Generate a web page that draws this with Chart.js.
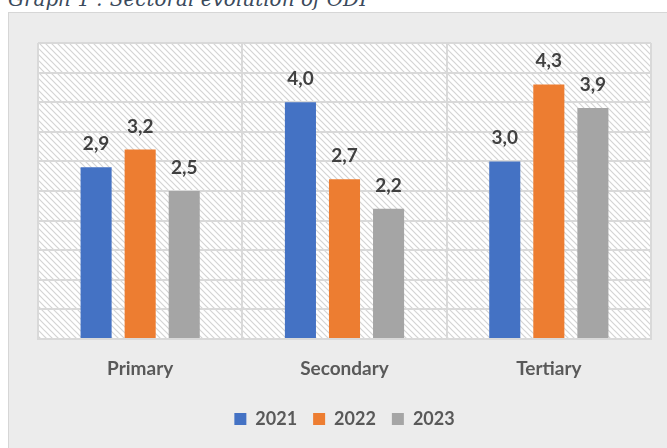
<!DOCTYPE html>
<html>
<head>
<meta charset="utf-8">
<script src="https://cdn.jsdelivr.net/npm/chart.js@4"></script>
<style>
  html, body { margin: 0; padding: 0; background: #ffffff; width: 667px; height: 448px; overflow: hidden; }
  #title {
    position: absolute; left: 8px; top: -13px; margin: 0;
    font-family: "DejaVu Serif", serif; font-style: italic; font-size: 20px;
    color: #3b4a5c; white-space: nowrap; line-height: 24px;
  }
  #panel {
    position: absolute; left: 8px; top: 12px; width: 659px; height: 436px;
    background: #ececec; border-top: 1px solid #d6d6d6; border-left: 1px solid #d6d6d6;
    box-sizing: border-box;
  }
  #chart { position: absolute; left: 0; top: 0; }
</style>
</head>
<body>
<div id="title">Graph 1 : Sectoral evolution of ODI</div>
<div id="panel"><canvas id="chart" width="658" height="435"></canvas></div>
<script>
// Sectoral values per year
const categories = ["Primary", "Secondary", "Tertiary"];
const years = ["2021", "2022", "2023"];
const values2021 = [2.9, 4.0, 3.0];
const values2022 = [3.2, 2.7, 4.3];
const values2023 = [2.5, 2.2, 3.9];
const yTicks = { min: 0, max: 5, step: 0.5 };
const colors = ["#4472c4", "#ed7d31", "#a5a5a5"];

const FONT = "Lato, 'Open Sans', sans-serif";

// Diagonal hatch used as the plot-area fill
function makeHatch() {
  const c = document.createElement("canvas");
  c.width = 6; c.height = 6;
  const g = c.getContext("2d");
  g.fillStyle = "#ffffff";
  g.fillRect(0, 0, 6, 6);
  g.strokeStyle = "#d4d4d4";
  g.lineWidth = 1.2;
  g.beginPath();
  g.moveTo(-1, -1); g.lineTo(7, 7);
  g.moveTo(-1, 5); g.lineTo(1, 7);
  g.moveTo(5, -1); g.lineTo(7, 1);
  g.stroke();
  return g.createPattern(c, "repeat");
}

const hatchBackground = {
  id: "hatchBackground",
  beforeDraw(chart) {
    const { ctx, chartArea: a } = chart;
    ctx.save();
    ctx.beginPath();
    ctx.rect(a.left, a.top, a.right - a.left, a.bottom - a.top);
    ctx.clip();
    ctx.fillStyle = makeHatch();
    ctx.fillRect(a.left, a.top, a.right - a.left, a.bottom - a.top);
    ctx.restore();
  }
};

const valueLabels = {
  id: "valueLabels",
  afterDatasetsDraw(chart) {
    const { ctx } = chart;
    ctx.save();
    ctx.font = "bold 19px " + FONT;
    ctx.fillStyle = "#404040";
    ctx.textAlign = "center";
    ctx.textBaseline = "alphabetic";
    chart.data.datasets.forEach((ds, i) => {
      chart.getDatasetMeta(i).data.forEach((bar, j) => {
        const txt = ds.data[j].toFixed(1).replace(".", ",");
        ctx.fillText(txt, bar.x, bar.y - 17);
      });
    });
    ctx.restore();
  }
};

new Chart(document.getElementById("chart"), {
  type: "bar",
  data: {
    labels: categories,
    datasets: [
      { label: years[0], data: values2021, backgroundColor: colors[0] },
      { label: years[1], data: values2022, backgroundColor: colors[1] },
      { label: years[2], data: values2023, backgroundColor: colors[2] }
    ]
  },
  options: {
    responsive: false,
    animation: false,
    events: [],
    categoryPercentage: 0.647,
    barPercentage: 0.705,
    layout: { padding: { top: 30, left: 29, right: 16, bottom: 10 } },
    scales: {
      x: {
        offset: true,
        grid: { offset: true, color: "#d9d9d9", lineWidth: 2, drawTicks: false },
        border: { display: true, color: "#d9d9d9", width: 2 },
        ticks: {
          padding: 18,
          color: "#595959",
          font: { family: FONT, size: 19, weight: "bold" }
        },
        afterFit(s) { s.height = 55; }
      },
      y: {
        min: yTicks.min, max: yTicks.max,
        ticks: { stepSize: yTicks.step, display: false },
        grid: { color: "#d9d9d9", lineWidth: 2, drawTicks: false },
        border: { display: false },
        afterFit(s) { s.width = 0; }
      }
    },
    plugins: {
      legend: {
        position: "bottom",
        labels: {
          boxWidth: 12, boxHeight: 12, padding: 16,
          color: "#595959",
          font: { family: FONT, size: 18, weight: "bold" }
        }
      },
      tooltip: { enabled: false }
    }
  },
  plugins: [hatchBackground, valueLabels]
});
</script>
</body>
</html>
